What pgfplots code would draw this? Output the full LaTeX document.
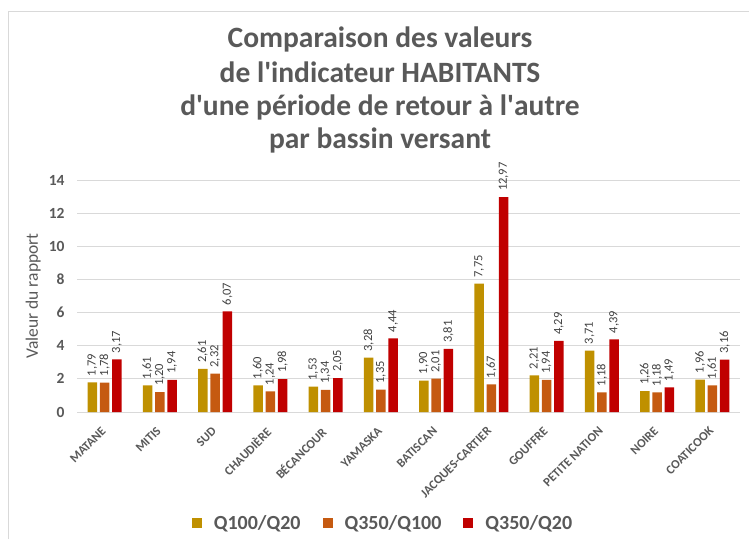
\documentclass[border=0pt]{standalone}
\usepackage{fontspec}
\setmainfont{Carlito}
\usepackage{graphicx}
\usepackage{pgfplots}
\pgfplotsset{compat=1.18}

\definecolor{qA}{HTML}{BF9000}
\definecolor{qB}{HTML}{C55A11}
\definecolor{qC}{HTML}{C00000}
\definecolor{txt}{HTML}{595959}
\definecolor{lbl}{HTML}{404040}
\definecolor{gridc}{HTML}{D9D9D9}

\newcommand{\rl}[1]{\rotatebox{45}{#1}}

\begin{document}
\begin{tikzpicture}
\path[use as bounding box] (0pt,0pt) rectangle (749pt,539pt);
\draw[gridc, line width=1pt] (8pt,0pt) -- (8pt,527pt) -- (749pt,527pt);

% title
\begin{scope}[every node/.style={anchor=base, text=txt, font=\bfseries\fontsize{29.5}{34}\selectfont}]
\node at (380pt,491pt) {Comparaison des valeurs};
\node at (380pt,456.5pt) {de l\textquotesingle indicateur HABITANTS};
\node at (380pt,423pt) {d\textquotesingle une période de retour à l\textquotesingle autre};
\node at (380pt,390pt) {par bassin versant};
\end{scope}

\begin{axis}[
    at={(77pt,127pt)}, anchor=south west,
    scale only axis, width=663pt, height=232pt,
    ybar=2.8pt, bar width=9.5pt,
    xmin=-0.5, xmax=11.5, ymin=0, ymax=14,
    xtick={0,...,11},
    xticklabels={\rl{MATANE}, \rl{MITIS}, \rl{SUD}, \rl{CHAUDIÈRE}, \rl{BÉCANCOUR},
        \rl{YAMASKA}, \rl{BATISCAN}, \rl{JACQUES-CARTIER}, \rl{GOUFFRE},
        \rl{PETITE NATION}, \rl{NOIRE}, \rl{COATICOOK}},
    xticklabel style={anchor=north east, text=txt, inner sep=1pt,
        xshift=3pt, yshift=-13pt,
        font=\bfseries\fontsize{12.5}{14}\selectfont},
    ytick={0,2,...,14},
    yticklabel={\pgfmathprintnumber[assume math mode=true]{\tick}\hspace*{9pt}},
    yticklabel style={anchor=east, text=txt,
        font=\bfseries\fontsize{15.5}{17}\selectfont},
    ymajorgrids, grid style={gridc, line width=1pt},
    axis line style={draw=none},
    major tick length=0pt,
    ylabel={Valeur du rapport},
    every axis y label/.style={at={(axis description cs:-0.066,0.5)}, rotate=90,
        anchor=center, text=txt, font=\fontsize{17.5}{20}\selectfont},
    nodes near coords={\pgfmathprintnumber[fixed, fixed zerofill, precision=2,
        use comma, assume math mode=true]{\pgfplotspointmeta}},
    every node near coord/.append style={rotate=90, anchor=west, text=lbl,
        inner sep=6pt, font=\fontsize{12.5}{14}\selectfont},
    legend columns=3,
    legend style={at={(axis description cs:0.4615,-0.478)}, anchor=center,
        draw=none, fill=none, text=txt, font=\bfseries\fontsize{20}{22}\selectfont,
        /tikz/every odd column/.append style={column sep=10pt},
        /tikz/every even column/.append style={column sep=20pt}},
    every axis plot post/.append style={legend image code/.code={
        \fill[##1] (0pt,-5pt) rectangle (10pt,5pt);}},
]
% Q100/Q20
\addplot[fill=qA, draw=none] coordinates {
    (0,1.79) (1,1.61) (2,2.61) (3,1.60) (4,1.53) (5,3.28)
    (6,1.90) (7,7.75) (8,2.21) (9,3.71) (10,1.26) (11,1.96)};
% Q350/Q100
\addplot[fill=qB, draw=none] coordinates {
    (0,1.78) (1,1.20) (2,2.32) (3,1.24) (4,1.34) (5,1.35)
    (6,2.01) (7,1.67) (8,1.94) (9,1.18) (10,1.18) (11,1.61)};
% Q350/Q20
\addplot[fill=qC, draw=none] coordinates {
    (0,3.17) (1,1.94) (2,6.07) (3,1.98) (4,2.05) (5,4.44)
    (6,3.81) (7,12.97) (8,4.29) (9,4.39) (10,1.49) (11,3.16)};
\legend{Q100/Q20, Q350/Q100, Q350/Q20}
\end{axis}
\end{tikzpicture}
\end{document}
